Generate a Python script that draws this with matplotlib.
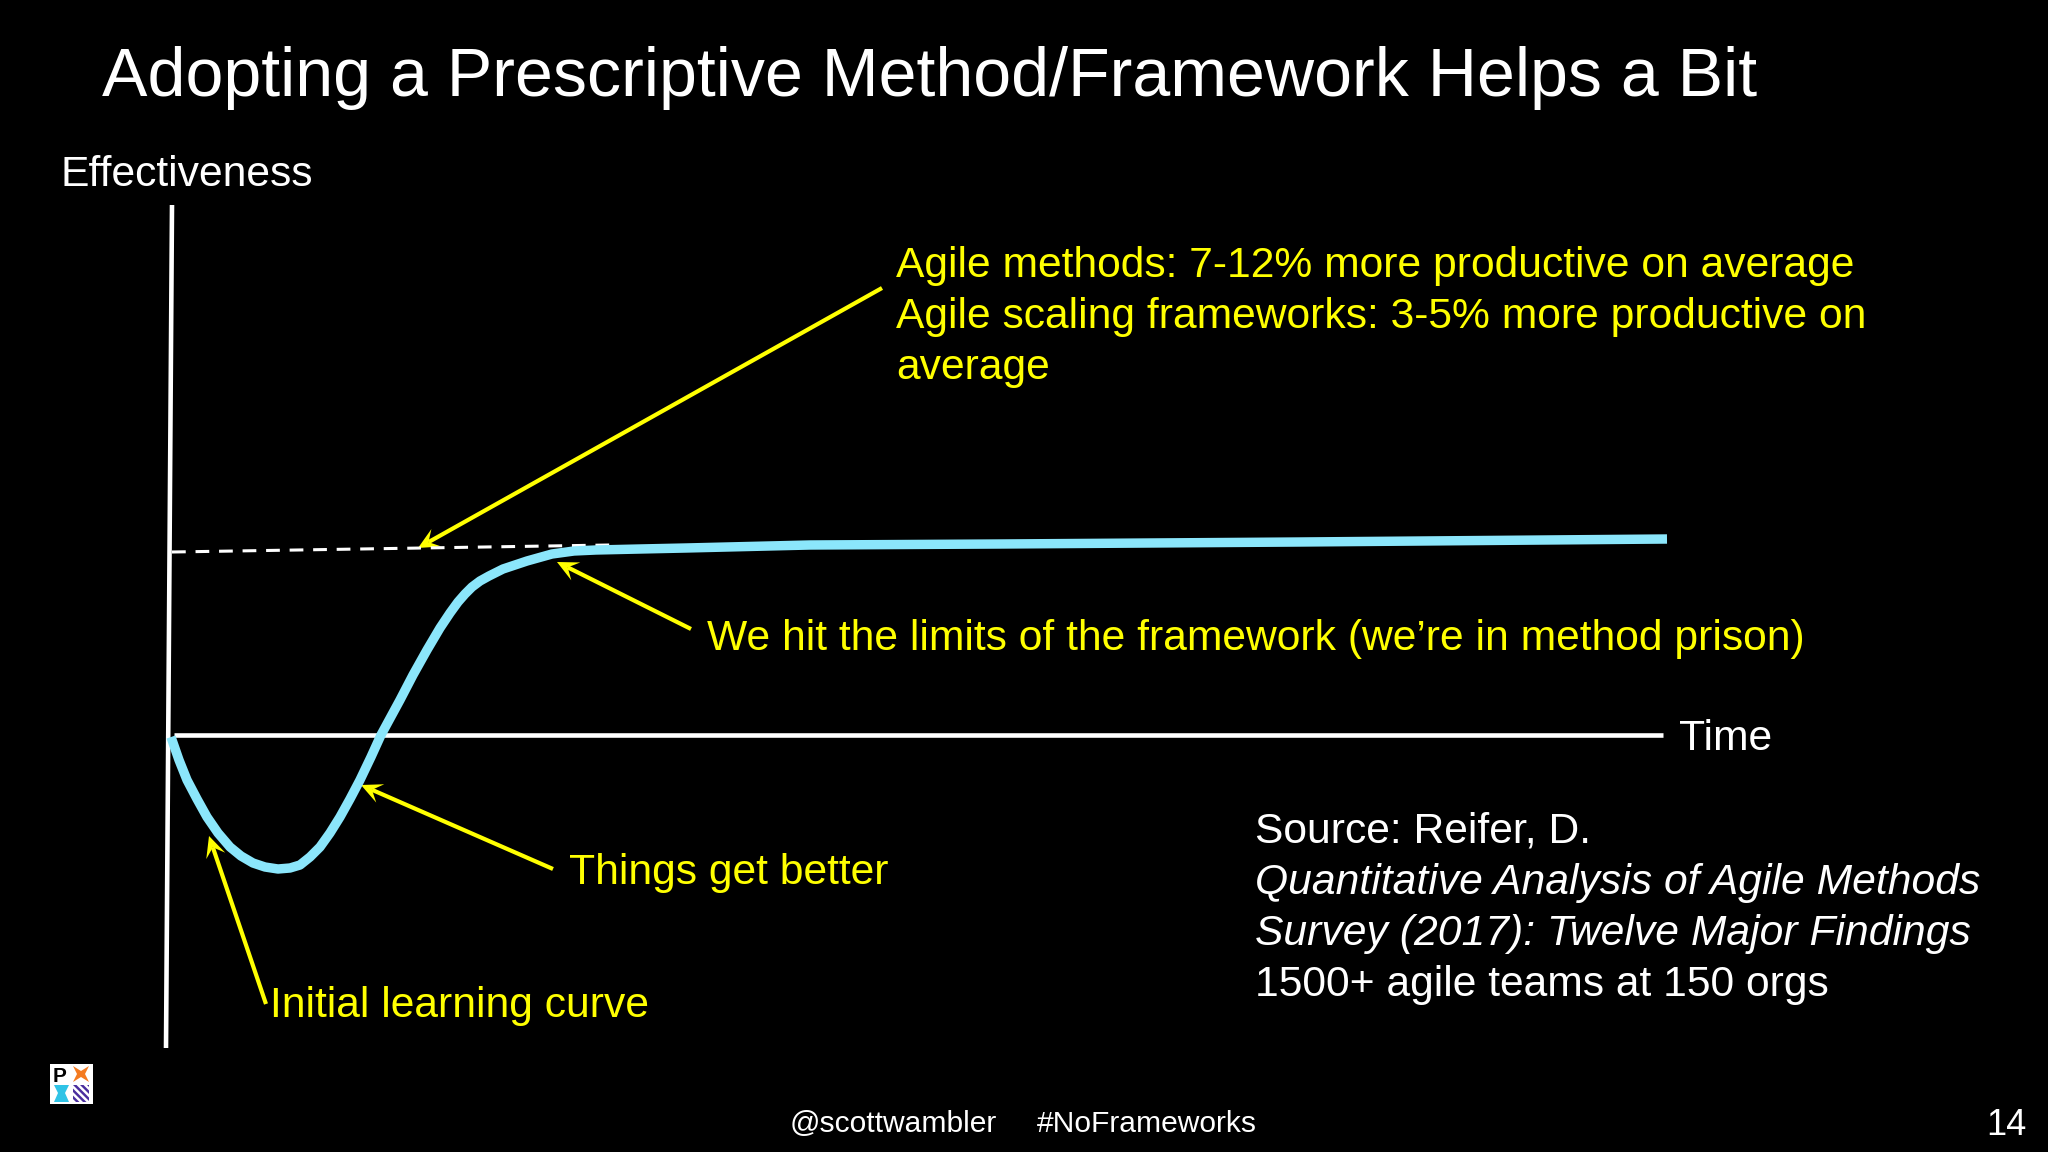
import matplotlib
matplotlib.use('Agg')
import matplotlib.pyplot as plt
import numpy as np
from matplotlib.patches import Polygon, Rectangle

plt.rcParams['font.family'] = ['Liberation Sans', 'DejaVu Sans']

WHITE = '#ffffff'
YELLOW = '#ffff00'
CURVE = '#8be6fb'

curve_x = [171, 179, 187, 197, 207, 218, 230, 241, 253, 265, 278, 290, 300, 310, 320, 330, 340, 350, 360, 371, 381,
           400, 413, 427, 440, 450, 458, 465, 472, 480, 489, 503, 527, 552, 574, 596, 640, 686, 810, 1000, 1300, 1667]
curve_y = [737, 760, 780, 799, 817, 833, 847, 856, 863, 867, 869, 868, 865, 857, 847, 833, 817, 799, 780, 757, 735,
           700, 675, 650, 628, 613, 602, 594, 587, 581, 576, 569, 561, 554, 551, 550, 549, 548, 545, 544, 542, 539]

y_axis_x = [172, 166]
y_axis_y = [205, 1048]
x_axis_x = [174, 1663]
x_axis_y = [735, 735]
limit_x = [172, 610]
limit_y = [552, 545]

title = 'Adopting a Prescriptive Method/Framework Helps a Bit'
callouts = [
    ('Agile methods: 7-12% more productive on average', 896, 277, YELLOW, 'normal'),
    ('Agile scaling frameworks: 3-5% more productive on', 896, 328, YELLOW, 'normal'),
    ('average', 896, 379, YELLOW, 'normal'),
    ('We hit the limits of the framework (we\u2019re in method prison)', 707, 650, YELLOW, 'normal'),
    ('Things get better', 569, 884, YELLOW, 'normal'),
    ('Initial learning curve', 270, 1017, YELLOW, 'normal'),
    ('Effectiveness', 61, 186, WHITE, 'normal'),
    ('Time', 1679, 750, WHITE, 'normal'),
    ('Source: Reifer, D.', 1255, 842, WHITE, 'normal'),
    ('Quantitative Analysis of Agile Methods', 1255, 894, WHITE, 'italic'),
    ('Survey (2017): Twelve Major Findings', 1255, 945, WHITE, 'italic'),
    ('1500+ agile teams at 150 orgs', 1255, 996, WHITE, 'normal'),
]
# (from, to)
arrows = [
    ((882, 288), (418, 548)),
    ((691, 629), (557, 562)),
    ((553, 869), (361, 785)),
    ((266, 1004), (209, 836)),
]


def draw_arrow(ax, start, end):
    # notched head, the stock arrowstyles have no such shape
    start, end = np.array(start, float), np.array(end, float)
    d = (end - start) / np.linalg.norm(end - start)
    n = np.array([-d[1], d[0]])
    notch = end - d * 12
    ax.plot([start[0], notch[0]], [start[1], notch[1]], color=YELLOW, lw=3, solid_capstyle='butt')
    head = [end, end - d * 21 + n * 10, notch, end - d * 21 - n * 10]
    ax.add_patch(Polygon(head, color=YELLOW, lw=0))


fig = plt.figure(figsize=(20.48, 11.52), dpi=100, facecolor='black')
ax = fig.add_axes([0, 0, 1, 1])
ax.set_xlim(0, 2048)
ax.set_ylim(1152, 0)
ax.axis('off')

ax.plot(y_axis_x, y_axis_y, color=WHITE, lw=3.3, solid_capstyle='butt')
ax.plot(x_axis_x, x_axis_y, color=WHITE, lw=3.3, solid_capstyle='butt')
ax.plot(limit_x, limit_y, color=WHITE, lw=2.2, dashes=(4.5, 3.2))
ax.plot(curve_x, curve_y, color=CURVE, lw=6.8, solid_capstyle='butt', solid_joinstyle='round')

for start, end in arrows:
    draw_arrow(ax, start, end)

ax.text(102, 96, title, color=WHITE, fontsize=49.1, va='baseline')
for text, x, y, color, style in callouts:
    ax.text(x, y, text, color=color, fontsize=30.7, va='baseline', style=style)

ax.text(790, 1132, '@scottwambler', color=WHITE, fontsize=21.6, va='baseline')
ax.text(1037, 1132, '#NoFrameworks', color=WHITE, fontsize=21.6, va='baseline')
ax.text(1986, 1135, '14', color=WHITE, fontsize=26, va='baseline')

# PMI logo
ax.add_patch(Rectangle((50, 1064), 43, 40, color=WHITE, lw=0))
ax.text(53, 1082, 'P', color='black', fontsize=15, fontweight='bold', va='baseline')
ax.add_patch(Polygon([(73, 1066), (81, 1071), (89, 1066), (85, 1074), (89, 1082), (81, 1077), (73, 1082), (77, 1074)],
                     color='#f47a20', lw=0))
ax.add_patch(Polygon([(54, 1085), (69, 1085), (65, 1093), (69, 1102), (54, 1102), (58, 1093)],
                     color='#2fc3e6', lw=0))
clip = Rectangle((73, 1085), 16, 17, transform=ax.transData)
for i in range(-2, 3):
    stripe = Polygon([(73 + i * 7, 1085), (76.5 + i * 7, 1085), (93.5 + i * 7, 1102), (90 + i * 7, 1102)],
                     color='#4b2e9e', lw=0)
    ax.add_patch(stripe)
    stripe.set_clip_path(clip)

fig.savefig('out.png', dpi=100, facecolor='black')
